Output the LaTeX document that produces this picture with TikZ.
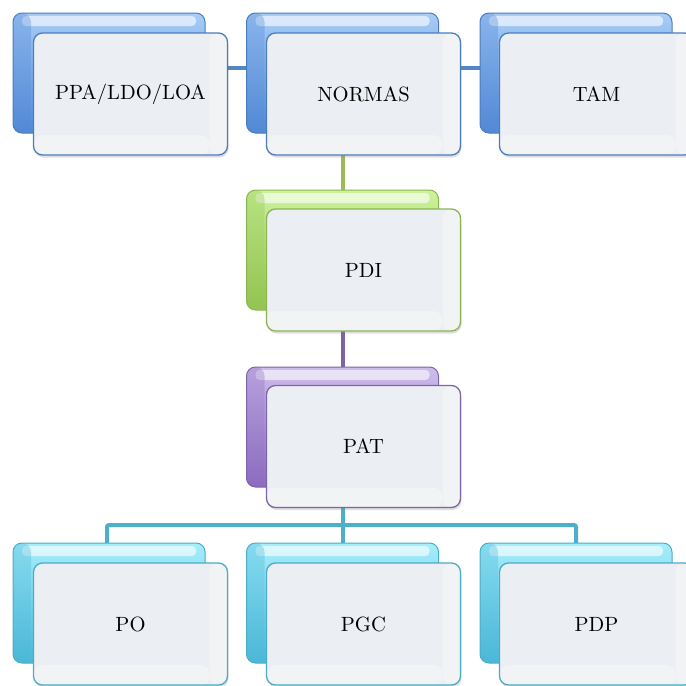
\documentclass[tikz,border=0pt]{standalone}
\usepackage{fontspec}
\newfontfamily\boxfont{lmroman10-regular.otf}
\usetikzlibrary{shadows,backgrounds}
\definecolor{blueL}{HTML}{A8CCF7}
\definecolor{blueD}{HTML}{5289D6}
\definecolor{blueB}{HTML}{4A7DBD}
\definecolor{blueW}{HTML}{5486C4}
\definecolor{greenL}{HTML}{CDF29C}
\definecolor{greenD}{HTML}{93C552}
\definecolor{greenB}{HTML}{8CB453}
\definecolor{greenW}{HTML}{9BBB59}
\definecolor{purpleL}{HTML}{CDBDEC}
\definecolor{purpleD}{HTML}{8C6CC0}
\definecolor{purpleB}{HTML}{7E64A8}
\definecolor{purpleW}{HTML}{8064A2}
\definecolor{tealL}{HTML}{A6EEFB}
\definecolor{tealD}{HTML}{4BB8D8}
\definecolor{tealB}{HTML}{4BACC6}
\definecolor{tealW}{HTML}{4DAFCA}
\definecolor{frontT}{HTML}{EBEEF2}
\tikzset{
  backbox/.style={draw=#1B, line width=1pt, rounded corners=9pt,
    top color=#1L, bottom color=#1D, minimum width=192pt, minimum height=120pt,
    path picture={
      \fill[white,opacity=0.6,rounded corners=4pt]
        ([xshift=9pt,yshift=-3pt]path picture bounding box.north west)
        rectangle ([xshift=-9pt,yshift=-13pt]path picture bounding box.north east);
      \fill[#1D,opacity=0.35]
        (path picture bounding box.south west) rectangle
        ([xshift=18pt]path picture bounding box.north west);
    }},
  frontbox/.style={draw=#1B, line width=1.3pt, rounded corners=9pt,
    fill=frontT, minimum width=194pt, minimum height=122pt,
    font=\boxfont\fontsize{20.6}{24}\selectfont, text=black,
    drop shadow={opacity=0.25, shadow xshift=1pt, shadow yshift=-2.5pt},
    path picture={
      \fill[white,opacity=0.3]
        ([xshift=-18pt]path picture bounding box.north east) rectangle
        (path picture bounding box.south east);
      \fill[white,opacity=0.3]
        ([yshift=20pt]path picture bounding box.south west) rectangle
        ([xshift=-18pt]path picture bounding box.south east);
    }},
  conn/.style={line width=4pt, draw=#1W, rounded corners=2pt},
}
\begin{document}
\begin{tikzpicture}[x=1pt,y=-1pt]
\useasboundingbox (0,0) rectangle (686,686);
\clip (0,0) rectangle (686,686);
% back boxes
\node[backbox=blue] (ppaB) at (109,73) {};
\node[backbox=blue] (normasB) at (342.5,73) {};
\node[backbox=blue] (tamB) at (576,73) {};
\node[backbox=green] (pdiB) at (342.5,250) {};
\node[backbox=purple] (patB) at (342.5,427) {};
\node[backbox=teal] (poB) at (109,603) {};
\node[backbox=teal] (pgcB) at (342.5,603) {};
\node[backbox=teal] (pdpB) at (576,603) {};
\coordinate (bus) at (0,525);
% connectors behind
\begin{scope}[on background layer]
\draw[conn=blue] ([yshift=5pt]ppaB.center) -- ([yshift=5pt]tamB.center);
\draw[conn=green] (normasB.center) -- (pdiB.center);
\draw[conn=purple] (pdiB.center) -- (patB.center);
\draw[conn=teal] ([xshift=-2pt]poB.center) -- ([xshift=-2pt]poB.center |- bus) -| (pdpB.center);
\draw[conn=teal] (patB.center) -- (pgcB.center);
\end{scope}
% front boxes
\node[frontbox=blue] (ppa) at (130.5,94) {PPA/LDO/LOA};
\node[frontbox=blue] (normas) at (363.5,94) {NORMAS};
\node[frontbox=blue] (tam) at (596.5,94) {TAM};
\node[frontbox=green] (pdi) at (363.5,270) {PDI};
\node[frontbox=purple] (pat) at (363.5,446.5) {PAT};
\node[frontbox=teal] (po) at (130.5,624) {PO};
\node[frontbox=teal] (pgc) at (363.5,624) {PGC};
\node[frontbox=teal] (pdp) at (596.5,624) {PDP};
\end{tikzpicture}
\end{document}
